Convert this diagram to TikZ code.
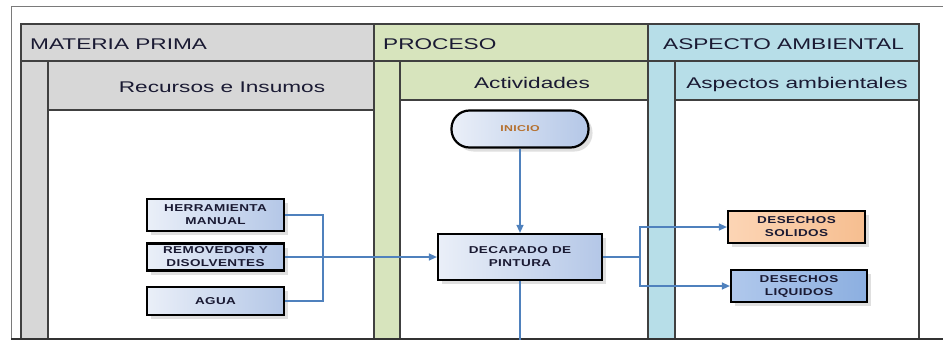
\documentclass[tikz,border=0pt]{standalone}
\usepackage{fontspec}
\setmainfont{Liberation Sans}
\newfontfamily\hdrfont[FakeStretch=1.46]{Liberation Sans}
\newfontfamily\boxfont[FakeStretch=1.35,LetterSpace=4]{Liberation Sans}
\newfontfamily\smallfont[FakeStretch=1.45,LetterSpace=4]{Liberation Sans}
\usetikzlibrary{shadows,arrows.meta,calc}
\definecolor{lanegray}{HTML}{D7D7D7}
\definecolor{lanegreen}{HTML}{D7E4BD}
\definecolor{laneblue}{HTML}{B7DEE8}
\definecolor{linecol}{HTML}{404040}
\definecolor{framecol}{HTML}{7A7A7A}
\definecolor{conn}{HTML}{4F81BD}
\definecolor{boxlight}{HTML}{EAEFF8}
\definecolor{boxdark}{HTML}{B4C7E7}
\definecolor{orlight}{HTML}{FCD5B5}
\definecolor{ordark}{HTML}{F6BE90}
\definecolor{bllight}{HTML}{B0C8EC}
\definecolor{bldark}{HTML}{8CAFE0}
\definecolor{txt}{HTML}{1A1A33}
\definecolor{initxt}{HTML}{B5702E}
\tikzset{
  lanebox/.style={draw=linecol,line width=1.2pt},
  hdrtext/.style={font=\hdrfont\fontsize{15.5}{18}\selectfont,text=txt,inner sep=0},
  procbox/.style={draw=black,line width=2.2pt,inner sep=0,align=center,
    shading=axis,shading angle=90,left color=boxlight,right color=boxdark,
    font=\boxfont\bfseries\fontsize{10}{13}\selectfont,text=txt,
    drop shadow={shadow xshift=4pt,shadow yshift=-4pt,fill=black!14,opacity=0.9}},
  termbox/.style={procbox,rounded corners=18pt,font=\smallfont\bfseries\fontsize{8.5}{10}\selectfont,text=initxt},
  conline/.style={draw=conn,line width=1.3pt},
  arr/.style={conline,-{Triangle[length=8pt,width=7pt]}}
}
\begin{document}
\begin{tikzpicture}[x=1pt,y=-1pt]
\useasboundingbox (0,0) rectangle (943,340);
% outer frame
\draw[framecol,line width=1pt] (943,6) -- (11,6) -- (11,339);
\draw[black!80,line width=1.2pt] (11,339) -- (943,339);
% header row
\fill[lanegray] (21,24) rectangle (374,61);
\fill[lanegreen] (374,24) rectangle (648,61);
\fill[laneblue] (648,24) rectangle (919,61);
% lane strips and subheaders
\fill[lanegray] (21,61) rectangle (48,338);
\fill[lanegray] (48,61) rectangle (374,110);
\fill[lanegreen] (374,61) rectangle (400,338);
\fill[lanegreen] (400,61) rectangle (648,100);
\fill[laneblue] (648,61) rectangle (675,338);
\fill[laneblue] (675,61) rectangle (919,100);
% lines
\draw[lanebox] (21,338) -- (21,24) -- (919,24) -- (919,338);
\draw[lanebox] (21,61) -- (919,61);
\draw[lanebox] (374,24) -- (374,338);
\draw[lanebox] (648,24) -- (648,338);
\draw[lanebox] (48,61) -- (48,338);
\draw[lanebox] (400,61) -- (400,338);
\draw[lanebox] (675,61) -- (675,338);
\draw[lanebox] (48,110) -- (374,110);
\draw[lanebox] (400,100) -- (648,100);
\draw[lanebox] (675,100) -- (919,100);
% header texts
\node[hdrtext,anchor=base west] (hmp) at (30,49) {MATERIA PRIMA};
\node[hdrtext,anchor=base west] (hpr) at (383,49) {PROCESO};
\node[hdrtext,anchor=base west] (haa) at (663,49) {ASPECTO AMBIENTAL};
\node[hdrtext,anchor=base] (hri) at (222,92) {Recursos e Insumos};
\node[hdrtext,anchor=base] (hac) at (532,88) {Actividades};
\node[hdrtext,anchor=base] (hasp) at (797,88) {Aspectos ambientales};
% nodes
\node[termbox,minimum width=137pt,minimum height=37pt] (ini) at (520,129) {INICIO};
\node[procbox,minimum width=137pt,minimum height=32pt] (herr) at (215.5,215) {HERRAMIENTA\\MANUAL};
\node[procbox,minimum width=137pt,minimum height=27pt] (remo) at (215.5,257) {REMOVEDOR Y\\DISOLVENTES};
\node[procbox,minimum width=137pt,minimum height=28pt] (agua) at (215.5,301) {AGUA};
\node[procbox,minimum width=164pt,minimum height=46pt] (dec) at (520,257) {DECAPADO DE\\PINTURA};
\node[procbox,minimum width=137pt,minimum height=32pt,left color=orlight,right color=ordark] (sol) at (796.5,227) {DESECHOS\\SOLIDOS};
\node[procbox,minimum width=136pt,minimum height=32pt,left color=bllight,right color=bldark] (liq) at (799,286) {DESECHOS\\LIQUIDOS};
% connectors
\coordinate (j1) at (323,257);
\coordinate (j2) at (640,257);
\coordinate (endc) at (520,340);
\draw[conline] (herr.east) -| (j1);
\draw[conline] (agua.east) -| (j1);
\draw[arr] (remo.east) -- (dec.west);
\draw[arr] (ini.south) -- (dec.north);
\draw[conline] (dec.east) -- (j2);
\draw[arr] (j2) |- (sol.west);
\draw[arr] (j2) |- (liq.west);
\draw[conline] (dec.south) -- (endc);
\end{tikzpicture}
\end{document}
